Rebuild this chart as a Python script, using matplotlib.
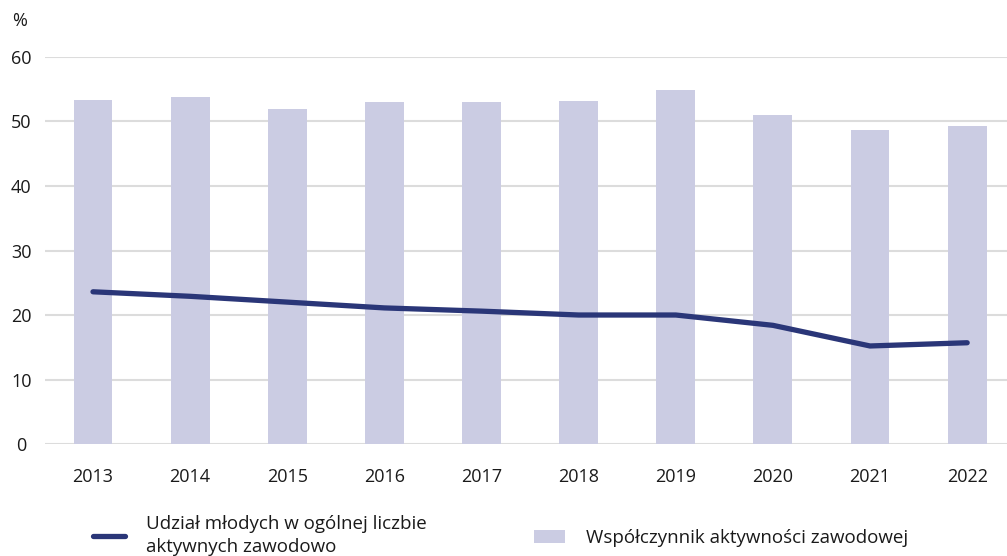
import matplotlib.pyplot as plt
import numpy as np

plt.rcParams['font.family'] = ['Open Sans', 'DejaVu Sans']

years = ['2013', '2014', '2015', '2016', '2017', '2018', '2019', '2020', '2021', '2022']
activity_rate = [53.3, 53.8, 51.9, 53.0, 53.0, 53.2, 54.9, 51.0, 48.7, 49.3]
youth_share = [23.6, 22.9, 22.0, 21.1, 20.6, 20.0, 20.0, 18.4, 15.2, 15.7]

line_label = 'Udział młodych w ogólnej liczbie\naktywnych zawodowo'
bar_label = 'Współczynnik aktywności zawodowej'

bar_color = '#cbcce3'
line_color = '#2a3678'
grid_color = '#dcdcdc'
text_color = '#1a1a1a'

fig = plt.figure(figsize=(10.07, 5.56), dpi=100)
ax = fig.add_axes([0.0447, 0.2014, 0.9553, 0.6961])

x = np.arange(len(years))
bars = ax.bar(x, activity_rate, width=0.4, color=bar_color, zorder=2, label=bar_label)
line, = ax.plot(x, youth_share, color=line_color, linewidth=3.8, solid_capstyle='round',
                zorder=3, label=line_label)

ax.set_ylim(0, 60)
ax.set_xlim(-0.494, 9.41)
ax.set_yticks(range(0, 61, 10))
ax.set_xticks(x)
ax.set_xticklabels(years)
ax.tick_params(axis='both', length=0, labelsize=13, colors=text_color)
ax.tick_params(axis='x', pad=17)
ax.tick_params(axis='y', pad=17)
for lab in ax.get_yticklabels():
    lab.set_horizontalalignment('center')
ax.yaxis.grid(True, color=grid_color, linewidth=1.5, zorder=0)
ax.set_axisbelow(True)
for s in ax.spines.values():
    s.set_visible(False)

fig.text(0.012, 0.963, '%', fontsize=13, color=text_color, va='center', ha='left')

fig.legend(handles=[line, bars], labels=[line_label, bar_label], loc='lower left',
           bbox_to_anchor=(0.076, -0.031), ncol=2, frameon=False, fontsize=13.5,
           handlelength=1.7, handletextpad=1.1, columnspacing=5.7, labelcolor=text_color,
           labelspacing=0.3)
for t in fig.legends[0].get_texts():
    t.set_linespacing(1.35)

fig.savefig('out.png', dpi=100)
